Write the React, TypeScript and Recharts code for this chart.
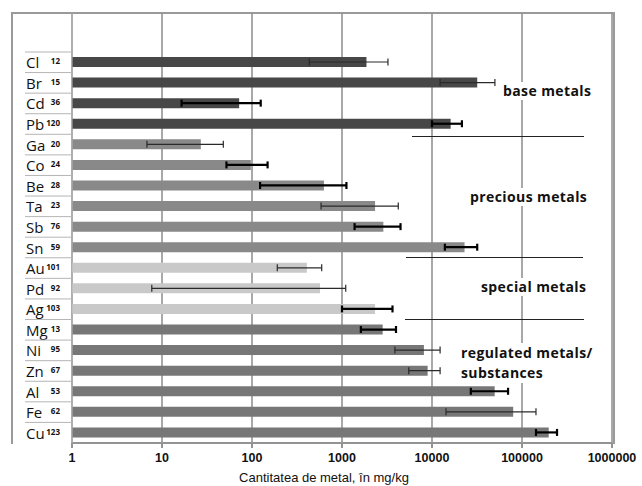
import React from 'react';
import { BarChart, Bar, XAxis, YAxis, CartesianGrid, ErrorBar, Cell } from 'recharts';

const metals = ['Cl', 'Br', 'Cd', 'Pb', 'Ga', 'Co', 'Be', 'Ta', 'Sb', 'Sn', 'Au', 'Pd', 'Ag', 'Mg', 'Ni', 'Zn', 'Al', 'Fe', 'Cu'];
const sampleCounts = [12, 15, 36, 120, 20, 24, 28, 23, 76, 59, 101, 92, 103, 13, 95, 67, 53, 62, 123];
const meanValues = [1870, 31800, 72, 16100, 27, 97, 630, 2330, 2880, 23000, 407, 570, 2330, 2830, 8130, 8940, 49700, 79800, 198000];
const lowerBounds = [434, 12300, 16.5, 10000, 6.8, 52, 123, 585, 1380, 13900, 191, 7.7, 1000, 1620, 3870, 5520, 27000, 14300, 143000];
const upperBounds = [3240, 50000, 125, 21500, 48, 149, 1120, 4220, 4470, 31800, 595, 1100, 3640, 3980, 12300, 12300, 70000, 143000, 245000];
const boldError = [false, false, true, true, false, true, true, false, true, true, false, false, true, true, false, false, true, false, true];
const metalGroups = ['base', 'base', 'base', 'base', 'precious', 'precious', 'precious', 'precious', 'precious', 'precious',
  'special', 'special', 'special', 'regulated', 'regulated', 'regulated', 'regulated', 'regulated', 'regulated'];
const groupColors: Record<string, string> = { base: '#474747', precious: '#898989', special: '#c9c9c9', regulated: '#777777' };
const xTicks = [1, 10, 100, 1000, 10000, 100000, 1000000];

const data = metals.map((name, i) => {
  const err = [meanValues[i] - lowerBounds[i], upperBounds[i] - meanValues[i]];
  return {
    name,
    count: sampleCounts[i],
    value: meanValues[i],
    group: metalGroups[i],
    errThick: boldError[i] ? err : null,
    errThin: boldError[i] ? null : err,
  };
});

function MetalTick({ x, y, payload }: any) {
  const row = data.find((d) => d.name === payload.value);
  const h = 20.6;
  return (
    <g>
      <line x1={x - 47} x2={x} y1={y - h / 2} y2={y - h / 2} stroke="#b5b5b5" strokeWidth={1} />
      <text x={x - 46} y={y + 6} fontSize={15} fontFamily="Open Sans" fill="#111">{payload.value}</text>
      <text x={x - 12} y={y + 2} textAnchor="end" fontSize={8} fontWeight="bold" fontFamily="Open Sans" fill="#111">
        {row ? row.count : ''}
      </text>
    </g>
  );
}

const noteStyle: React.CSSProperties = {
  position: 'absolute',
  background: '#fff',
  fontFamily: 'Open Sans',
  fontWeight: 'bold',
  fontSize: 14,
  letterSpacing: 0.4,
  lineHeight: '18px',
  color: '#111',
  whiteSpace: 'nowrap',
};

export default function App() {
  return (
    <div style={{ position: 'absolute', left: 0, top: 0, width: 642, height: 486, background: '#fff' }}>
      <div style={{ position: 'absolute', left: 11, top: 12, width: 600, height: 430, border: '2px solid #9a9a9a', boxSizing: 'content-box', borderBottom: 'none' }} />
      <BarChart
        width={642}
        height={486}
        data={data}
        layout="vertical"
        margin={{ top: 13, right: 30, left: 12, bottom: 0 }}
        barSize={10}
      >
        <CartesianGrid horizontal={false} stroke="#939393" strokeWidth={1.6} />
        <XAxis
          type="number"
          scale="log"
          domain={[1, 1000000]}
          ticks={xTicks}
          allowDataOverflow
          height={43}
          tickSize={5}
          tickMargin={5}
          stroke="#939393"
          strokeWidth={2}
          tick={{ fill: '#111', fontSize: 12.5, fontWeight: 'bold', fontFamily: 'Liberation Sans, Arial' }}
          label={{ value: 'Cantitatea de metal, în mg/kg', position: 'insideBottom', offset: 4, dx: -18, style: { fill: '#111', fontSize: 13, fontFamily: 'Liberation Sans, Arial' } }}
        />
        <YAxis
          type="category"
          dataKey="name"
          width={60}
          padding={{ top: 39, bottom: 0 }}
          tickLine={false}
          tickSize={0}
          tickMargin={0}
          stroke="#b5b5b5"
          tick={<MetalTick />}
          interval={0}
        />
        <Bar dataKey="value" isAnimationActive={false}>
          {data.map((d) => (
            <Cell key={d.name} fill={groupColors[d.group]} />
          ))}
          <ErrorBar dataKey="errThick" direction="x" width={3.5} stroke="#000" strokeWidth={2.2} />
          <ErrorBar dataKey="errThin" direction="x" width={3.5} stroke="#2a2a2a" strokeWidth={1.2} />
        </Bar>
      </BarChart>
      <svg width={642} height={486} style={{ position: 'absolute', left: 0, top: 0, pointerEvents: 'none' }}>
        <line x1={412} x2={584} y1={136.5} y2={136.5} stroke="#222" strokeWidth={1} />
        <line x1={406} x2={583} y1={257.5} y2={257.5} stroke="#222" strokeWidth={1} />
        <line x1={405} x2={584} y1={319.5} y2={319.5} stroke="#222" strokeWidth={1} />
      </svg>
      <div style={{ ...noteStyle, left: 503, top: 82 }}>base metals</div>
      <div style={{ ...noteStyle, left: 470, top: 188 }}>precious metals</div>
      <div style={{ ...noteStyle, left: 481, top: 278 }}>special metals</div>
      <div style={{ ...noteStyle, left: 461, top: 343, lineHeight: '20px' }}>regulated metals/<br />substances</div>
    </div>
  );
}
